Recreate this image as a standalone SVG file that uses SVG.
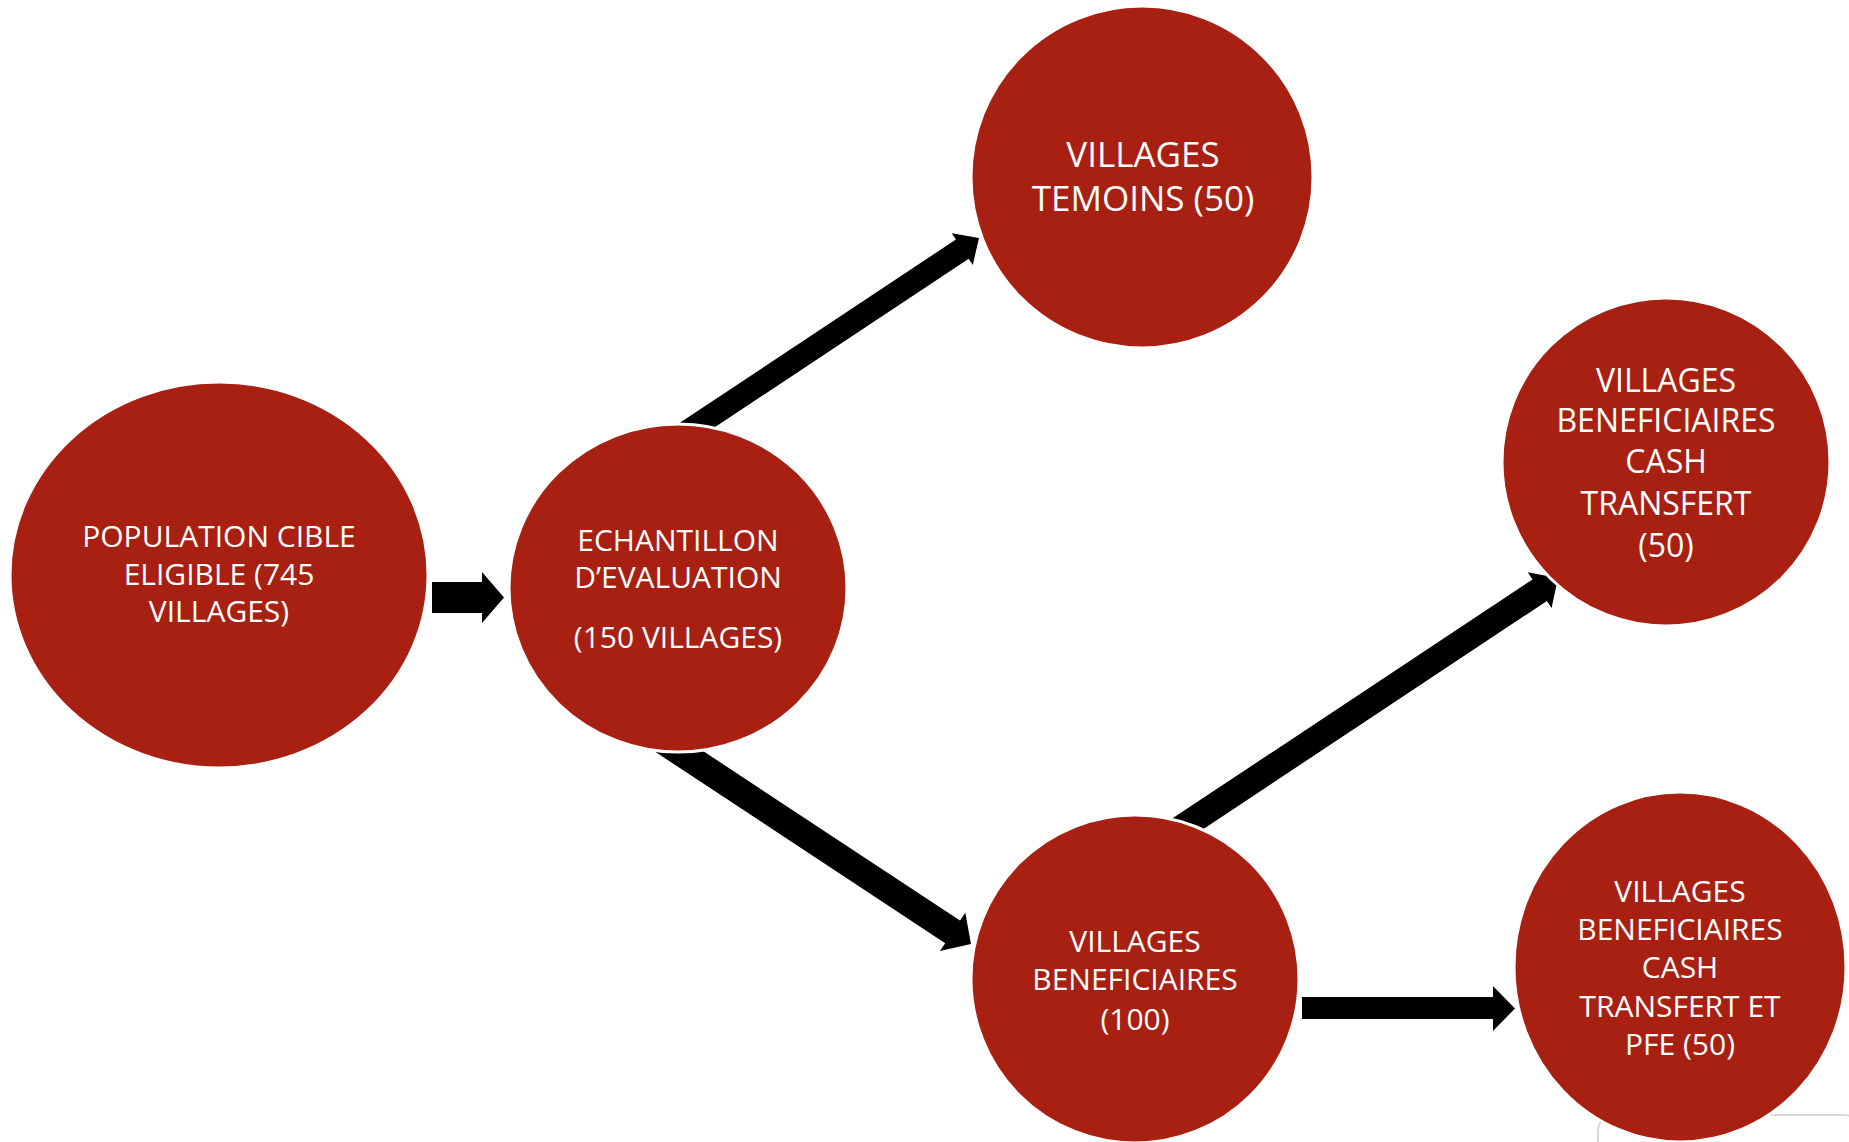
<svg xmlns="http://www.w3.org/2000/svg" width="1849" height="1142" viewBox="0 0 1849 1142">
  <style>
    .node { fill: #A82012; stroke: #FFFFFF; stroke-width: 3; }
    .lbl { fill: #FFFFFF; font-family: "Open Sans", "Noto Sans", "DejaVu Sans", sans-serif; text-anchor: middle; }
    .arrow { fill: #000000; }
  </style>
  <rect x="0" y="0" width="1849" height="1142" fill="#FFFFFF"/>
  <rect x="1598" y="1115" width="262" height="60" rx="16" fill="#FFFFFF" stroke="#D8D8D8" stroke-width="2"/>
  <g id="connectors">
    <polygon class="arrow" points="432,582 482,582 482,572 504,597.5 482,623 482,613 432,613"/>
    <polygon class="arrow" points="685.5,446.7 968.7,258.7 972.8,264.9 979,238 951.8,233.3 955.9,239.5 672.7,427.5"/>
    <polygon class="arrow" points="646.3,745.9 945.2,943.2 939.9,951.1 971,944 965.3,912.7 960,920.6 661.1,723.3"/>
    <polygon class="arrow" points="1182,843.2 1546.9,601 1551.6,608.1 1558,578 1527.8,572.3 1532.5,579.4 1167.6,821.6"/>
    <polygon class="arrow" points="1302,997 1493,997 1493,986 1515,1008.5 1493,1031 1493,1019 1302,1019"/>
  </g>
  <g id="node-population">
    <ellipse class="node" cx="219" cy="575" rx="209" ry="193"/>
    <text class="lbl" font-size="30" x="219" y="547">POPULATION CIBLE</text>
    <text class="lbl" font-size="30" x="219" y="585">ELIGIBLE (745</text>
    <text class="lbl" font-size="30" x="219" y="622">VILLAGES)</text>
  </g>
  <g id="node-echantillon">
    <ellipse class="node" cx="678" cy="588" rx="169" ry="164"/>
    <text class="lbl" font-size="30" x="678" y="551">ECHANTILLON</text>
    <text class="lbl" font-size="30" x="678" y="588">D’EVALUATION</text>
    <text class="lbl" font-size="30" x="678" y="648">(150 VILLAGES)</text>
  </g>
  <g id="node-temoins">
    <ellipse class="node" cx="1142" cy="177" rx="171" ry="171"/>
    <text class="lbl" font-size="35" x="1143" y="167">VILLAGES</text>
    <text class="lbl" font-size="35" x="1143" y="211">TEMOINS (50)</text>
  </g>
  <g id="node-cash">
    <ellipse class="node" cx="1666" cy="462" rx="164" ry="164"/>
    <text class="lbl" font-size="32" x="1666" y="392">VILLAGES</text>
    <text class="lbl" font-size="32" x="1666" y="432">BENEFICIAIRES</text>
    <text class="lbl" font-size="32" x="1666" y="473">CASH</text>
    <text class="lbl" font-size="32" x="1666" y="515">TRANSFERT</text>
    <text class="lbl" font-size="32" x="1666" y="557">(50)</text>
  </g>
  <g id="node-beneficiaires">
    <ellipse class="node" cx="1135" cy="979" rx="164" ry="164"/>
    <text class="lbl" font-size="30" x="1135" y="952">VILLAGES</text>
    <text class="lbl" font-size="30" x="1135" y="990">BENEFICIAIRES</text>
    <text class="lbl" font-size="30" x="1135" y="1030">(100)</text>
  </g>
  <g id="node-pfe">
    <ellipse class="node" cx="1680" cy="967" rx="166" ry="175"/>
    <text class="lbl" font-size="30" x="1680" y="902">VILLAGES</text>
    <text class="lbl" font-size="30" x="1680" y="940">BENEFICIAIRES</text>
    <text class="lbl" font-size="30" x="1680" y="978">CASH</text>
    <text class="lbl" font-size="30" x="1680" y="1017">TRANSFERT ET</text>
    <text class="lbl" font-size="30" x="1680" y="1055">PFE (50)</text>
  </g>
</svg>
